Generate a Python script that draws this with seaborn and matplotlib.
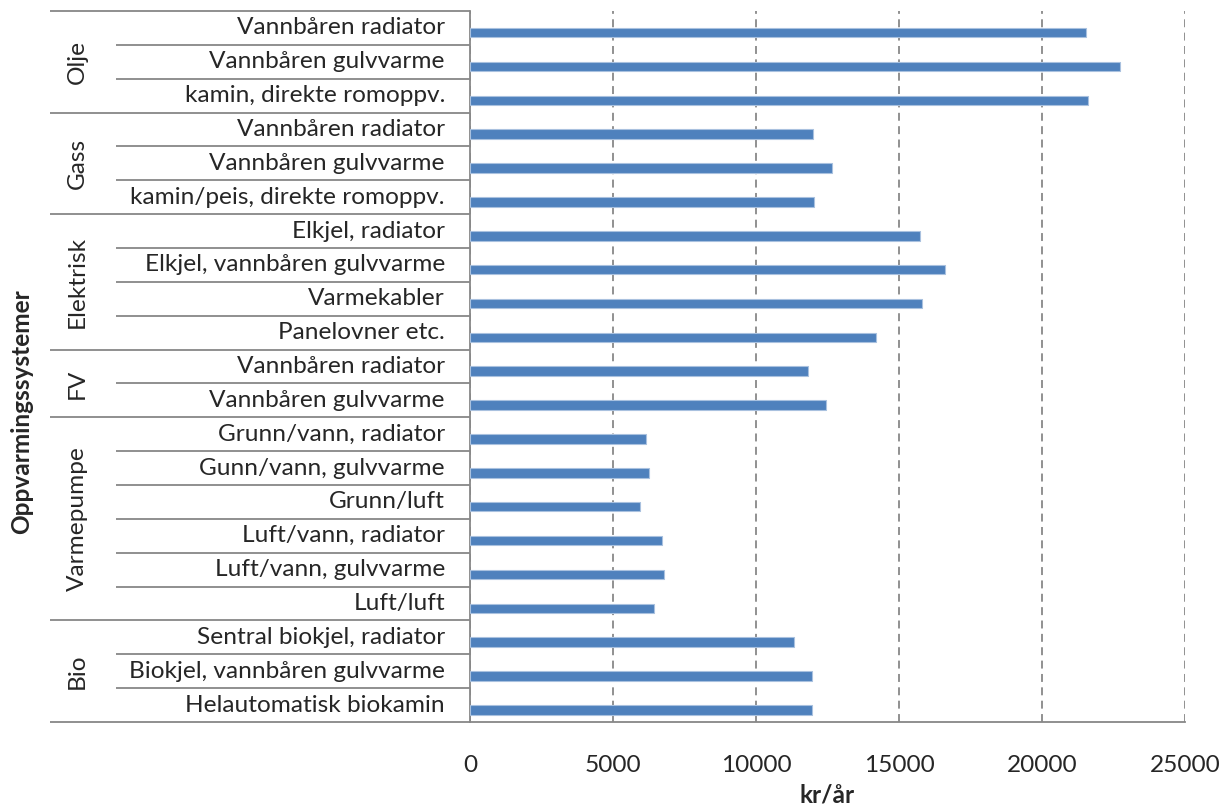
import matplotlib
matplotlib.use("Agg")
import matplotlib.pyplot as plt
import matplotlib.transforms as mtransforms
import pandas as pd
import seaborn as sns

# Heating system groups and the individual systems within each group (top to bottom)
groups = (["Olje"] * 3 + ["Gass"] * 3 + ["Elektrisk"] * 4 + ["FV"] * 2
          + ["Varmepumpe"] * 6 + ["Bio"] * 3)
systems = [
    "Vannbåren radiator", "Vannbåren gulvvarme", "kamin, direkte romoppv.",
    "Vannbåren radiator", "Vannbåren gulvvarme", "kamin/peis, direkte romoppv.",
    "Elkjel, radiator", "Elkjel, vannbåren gulvvarme", "Varmekabler", "Panelovner etc.",
    "Vannbåren radiator", "Vannbåren gulvvarme",
    "Grunn/vann, radiator", "Gunn/vann, gulvvarme", "Grunn/luft",
    "Luft/vann, radiator", "Luft/vann, gulvvarme", "Luft/luft",
    "Sentral biokjel, radiator", "Biokjel, vannbåren gulvvarme", "Helautomatisk biokamin",
]
# Annual heating cost, kr/år
cost = [
    21550, 22740, 21600,
    11980, 12660, 12020,
    15740, 16610, 15790, 14190,
    11810, 12460,
    6160, 6260, 5940, 6700, 6790, 6430,
    11330, 11960, 11960,
]
xticks = [0, 5000, 10000, 15000, 20000, 25000]
# The chart was laid out as a two-series cluster; only the second series holds data
series_order = ["Serie 1", "Serie 2"]

df = pd.DataFrame({"gruppe": groups, "system": systems, "kr": cost})
df["key"] = df["gruppe"] + " | " + df["system"]
df["serie"] = series_order[1]

sns.set_style("white")
plt.rcParams["font.family"] = ["Lato", "DejaVu Sans"]

W, H = 1222, 805
fig = plt.figure(figsize=(W / 100, H / 100), dpi=100)
left, right, top, bottom = 470, 1185, 11, 722
ax = fig.add_axes([left / W, 1 - bottom / H, (right - left) / W, (bottom - top) / H])

grey = "#878787"
fs = 17.6

sns.barplot(data=df, y="key", x="kr", hue="serie", hue_order=series_order,
            palette={series_order[0]: "#C0504D", series_order[1]: "#4F81BD"},
            orient="h", saturation=1, dodge=True, width=0.56,
            edgecolor="#a9c1df", linewidth=0.8, legend=False, ax=ax, zorder=3)

n = len(df)
ax.set_ylim(n - 0.5, -0.5)
ax.set_xlim(0, 25000)
ax.set_xticks(xticks)
ax.set_xticklabels([str(v) for v in xticks], fontsize=fs)
ax.set_yticks([])
ax.set_ylabel("")
ax.set_xlabel("kr/år", fontsize=fs, fontweight="bold", labelpad=5)
ax.tick_params(axis="x", direction="out", length=7, width=1.3, color=grey, pad=17)

ax.xaxis.grid(True, linestyle=(0, (4.4, 3.0)), color="#888888", linewidth=1.3, zorder=0)
ax.set_axisbelow(True)
for s in ["top", "right"]:
    ax.spines[s].set_visible(False)
for s in ["left", "bottom"]:
    ax.spines[s].set_color(grey)
    ax.spines[s].set_linewidth(1.3)

# Two-level category table to the left of the axis
tr = mtransforms.blended_transform_factory(fig.transFigure, ax.transData)
group_x0, sub_x0 = 50 / W, 116 / W
axis_x = left / W
bounds = [0]
for i in range(1, n):
    if groups[i] != groups[i - 1]:
        bounds.append(i)
bounds.append(n)
for i in range(n + 1):
    x0 = group_x0 if i in bounds else sub_x0
    ax.plot([x0, axis_x], [i - 0.5, i - 0.5], color=grey, lw=1.3,
            transform=tr, clip_on=False, solid_capstyle="butt")

for i, name in enumerate(systems):
    ax.text(445 / W, i, name, transform=tr, ha="right", va="center", fontsize=fs)

for a, b in zip(bounds[:-1], bounds[1:]):
    ax.text(77 / W, (a + b - 1) / 2, groups[a], transform=tr, ha="center",
            va="center", rotation=90, fontsize=fs)

fig.text(22 / W, 1 - 412 / H, "Oppvarmingssystemer", rotation=90, ha="center",
         va="center", fontsize=fs, fontweight="bold")

fig.savefig("out.png", dpi=100)
